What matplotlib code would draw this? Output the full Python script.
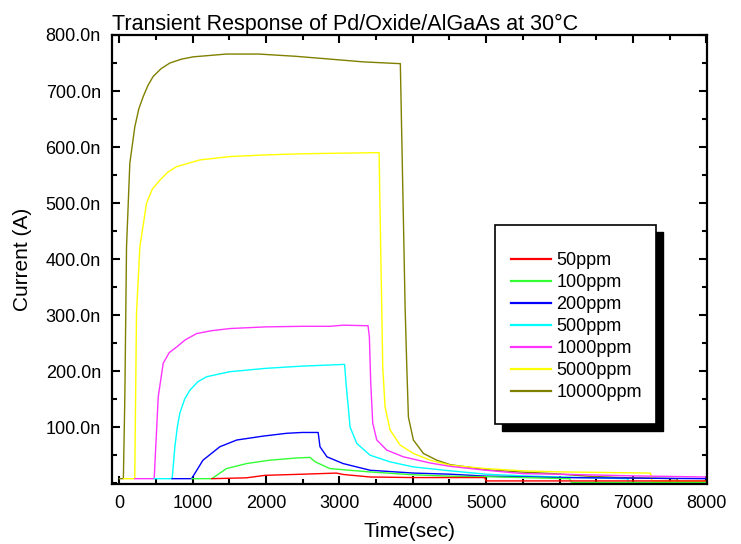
import matplotlib
matplotlib.use('Agg')
import matplotlib.pyplot as plt
from matplotlib.patches import Rectangle
from matplotlib.ticker import MultipleLocator, FuncFormatter

plt.rcParams['font.family'] = ['Liberation Sans', 'DejaVu Sans']

# current in nA, time in seconds
t_50 = [1260, 1730, 1990, 2500, 2960, 3050, 3420, 4000, 4980, 5000, 8000]
i_50 = [8, 9.5, 14, 16, 18, 15.5, 11, 10, 10, 4, 4]

t_100 = [990, 1260, 1460, 1735, 2050, 2420, 2600, 2670, 2870, 3420, 4000, 4500, 5000, 5500, 6140, 6160, 8000]
i_100 = [8, 8, 26, 35, 41, 45, 46, 38, 26, 20, 15, 12.5, 11.5, 10, 8, 1.5, 1.5]

t_200 = [720, 985, 1140, 1370, 1600, 1960, 2280, 2490, 2710, 2735, 2830, 3050, 3420, 4010, 4510, 5000, 6000, 7000, 8000]
i_200 = [8, 8, 41, 65, 77, 84, 89, 90.5, 90.5, 65, 47, 35, 23, 18, 16, 12.5, 10, 9, 8]

t_500 = [475, 720, 757, 790, 825, 890, 962, 1070, 1190, 1507, 2000, 2500, 3070, 3090, 3120, 3145, 3236, 3417,
         3690, 4008, 4509, 5000, 5500, 6000, 6930, 6945, 8000]
i_500 = [8, 8, 65, 100, 125, 150, 166, 181, 190, 199, 205, 209, 212, 178, 136, 100, 71, 50,
         38, 29, 22, 16, 13, 11, 8, 1, 1]

t_1000 = [210, 475, 530, 598, 680, 780, 900, 1053, 1250, 1507, 2000, 2500, 2870, 3050, 3390, 3408, 3427,
          3454, 3509, 3645, 3872, 4236, 4509, 5000, 5500, 6000, 7000, 8000]
i_1000 = [8, 8, 154, 214, 233, 243, 256, 267, 272, 276, 279, 280, 280, 282, 281, 261, 178,
          107, 77, 59, 47, 36, 30, 23, 17, 16, 13, 11]

t_5000 = [60, 210, 234, 280, 371, 450, 553, 660, 780, 1098, 1507, 2000, 2500, 3000, 3540, 3563, 3575, 3590,
          3622, 3690, 3827, 4008, 4236, 4509, 5000, 5500, 6050, 6650, 7240, 7260, 8000]
i_5000 = [8, 8, 303, 422, 500, 525, 541, 555, 565, 577, 583, 586, 588, 589, 590, 416, 327, 208,
          136, 95, 68, 53, 41, 32, 26, 22, 20, 19, 18, 3.5, 3.5]

t_10000 = [0, 55, 75, 98, 143, 211, 265, 325, 390, 461, 570, 689, 850, 1007, 1460, 1900, 2400, 2870, 3326,
           3804, 3830, 3880, 3895, 3918, 3940, 4008, 4145, 4327, 4509, 5010, 5464, 5918, 6374, 6828, 7600,
           7620, 8000]
i_10000 = [8, 8, 154, 422, 571, 636, 668, 690, 710, 726, 740, 750, 757, 761, 766, 766, 762, 757, 752,
           749, 749, 416, 315, 208, 118, 77, 53, 41, 33, 24, 20, 17, 12.5, 10, 8,
           2, 2]

labels = ['50ppm', '100ppm', '200ppm', '500ppm', '1000ppm', '5000ppm', '10000ppm']
colors = ['#ff0000', '#33ff33', '#0000ff', '#00ffff', '#ff33ff', '#ffff00', '#808000']
times = [t_50, t_100, t_200, t_500, t_1000, t_5000, t_10000]
currents = [i_50, i_100, i_200, i_500, i_1000, i_5000, i_10000]

W, H = 741, 544
fig = plt.figure(figsize=(W / 100, H / 100), dpi=100)
ax = fig.add_axes([112 / W, 1 - 484 / H, 595 / W, 449 / H])

handles = [None] * len(labels)
# draw the biggest first so the small ones sit on top
for k in range(len(labels) - 1, -1, -1):
    ln, = ax.plot(times[k], currents[k], color=colors[k], lw=1.0, label=labels[k])
    handles[k] = ln

ax.set_xlim(-100, 8010)
ax.set_ylim(-1.5, 800)
ax.xaxis.set_major_locator(MultipleLocator(1000))
ax.xaxis.set_minor_locator(MultipleLocator(500))
ax.set_yticks([100, 200, 300, 400, 500, 600, 700, 800])
ax.yaxis.set_minor_locator(MultipleLocator(50))
ax.yaxis.set_major_formatter(FuncFormatter(lambda v, p: '%.1fn' % v))

for s in ax.spines.values():
    s.set_linewidth(1.6)
ax.tick_params(which='both', direction='in', top=True, right=True, width=1.5, labelsize=13)
ax.tick_params(which='major', length=6, pad=8)
ax.tick_params(which='minor', length=3.5)

ax.set_xlabel('Time(sec)', fontsize=15, labelpad=7)
ax.set_ylabel('Current (A)', fontsize=15, labelpad=10)

fig.text(112 / W, 1 - 30 / H, 'Transient Response of Pd/Oxide/AlGaAs at 30°C',
         fontsize=15.5, va='baseline', ha='left')

# legend box with a solid black drop shadow
bx, by, bw, bh = 0.644, 0.134, 0.270, 0.443
dx, dy = 7 / 595, -7 / 449
ax.add_patch(Rectangle((bx + dx, by + dy), bw, bh, transform=ax.transAxes,
                       facecolor='black', edgecolor='black', zorder=5))
ax.add_patch(Rectangle((bx, by), bw, bh, transform=ax.transAxes,
                       facecolor='white', edgecolor='black', lw=1.2, zorder=6))
leg = ax.legend(handles=handles, loc='upper left', bbox_to_anchor=(0.671, 0.517),
                frameon=False, fontsize=13, handlelength=2.2, handletextpad=0.3,
                labelspacing=0.28, borderpad=0, borderaxespad=0)
leg.set_zorder(7)
for h in leg.get_lines():
    h.set_linewidth(1.6)

fig.savefig('out.png', dpi=100)
